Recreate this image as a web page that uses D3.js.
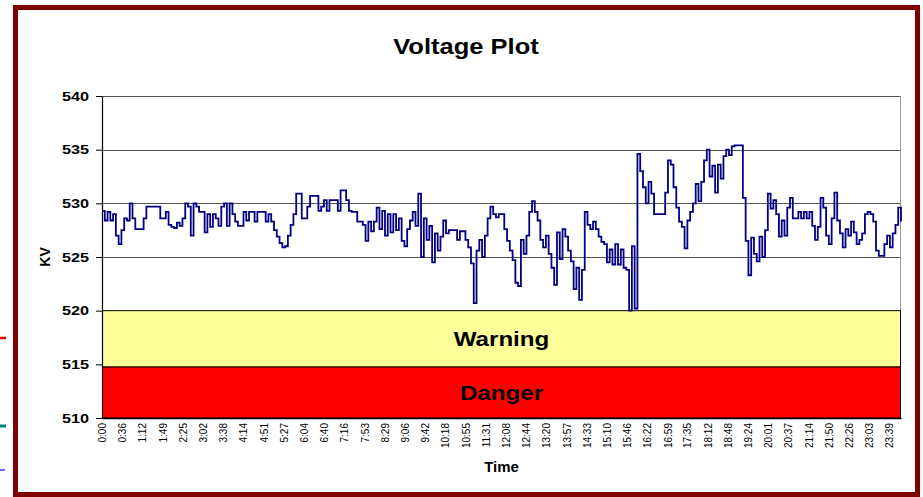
<!DOCTYPE html>
<html>
<head>
<meta charset="utf-8">
<script src="https://cdn.jsdelivr.net/npm/d3@7"></script>
<style>
  body { margin: 0; background: #fff; }
  svg { display: block; font-family: Arial, "Liberation Sans", sans-serif; }
</style>
</head>
<body>
<svg id="chart" width="923" height="497"></svg>
<script>
'use strict';

var chartTitle = 'Voltage Plot';
var xTitle = 'Time';
var yTitle = 'KV';

// one reading every 5 minutes, 0:00 .. 24:00
var stepMinutes = 5;
var voltage = [
  529.3, 528.4, 529.2, 528.4, 529.0, 527.0, 526.2, 527.5, 528.6, 528.4,
  530.0, 528.6, 527.6, 527.6, 527.6, 528.6, 529.7, 529.7, 529.7, 529.7,
  529.7, 528.6, 528.6, 529.2, 528.0, 527.8, 527.7, 528.2, 527.9, 528.6,
  530.0, 529.7, 527.0, 530.0, 529.7, 529.2, 529.2, 527.3, 529.0, 527.8,
  529.0, 528.6, 527.9, 529.7, 530.0, 527.9, 530.0, 529.0, 528.3, 527.9,
  527.9, 529.2, 528.4, 529.2, 529.2, 528.3, 529.2, 529.2, 529.2, 528.3,
  529.0, 528.3, 527.5, 526.9, 526.3, 525.9, 526.0, 527.0, 528.0, 529.0,
  530.9, 530.9, 528.6, 528.6, 529.7, 530.7, 530.7, 530.7, 529.3, 529.7,
  530.3, 529.3, 530.3, 530.3, 530.3, 529.3, 531.2, 531.2, 530.3, 529.3,
  529.2, 529.2, 528.3, 528.3, 528.0, 526.5, 528.3, 527.4, 528.3, 529.6,
  527.6, 529.3, 527.0, 529.0, 527.3, 529.0, 527.5, 528.6, 526.5, 526.0,
  527.6, 528.4, 529.2, 527.9, 530.9, 525.0, 528.6, 526.6, 527.9, 524.5,
  527.2, 525.6, 526.9, 528.4, 527.2, 527.5, 527.5, 527.5, 526.6, 527.4,
  527.4, 526.6, 525.9, 524.4, 520.7, 525.6, 526.6, 525.0, 527.0, 528.6,
  529.7, 529.0, 528.7, 529.0,
  529.0, 527.6, 526.5, 525.6, 524.7, 522.6, 522.3, 526.6, 525.3, 527.0,
  529.2, 530.2, 529.2, 528.4, 526.6, 525.9, 527.0, 525.3, 524.0, 522.4,
  527.3, 524.8, 527.6, 526.9, 525.6, 524.6, 522.0, 524.0, 521.0, 523.8,
  529.2, 528.0, 527.6, 528.3, 527.6, 526.9, 526.4, 526.2, 524.5, 525.7,
  524.3, 526.2, 524.3, 525.7, 524.0, 523.8, 520.0, 526.0, 520.2, 534.6,
  533.0, 531.5, 530.0, 532.0, 530.9, 529.0, 529.0, 529.0, 529.0, 531.0,
  534.0, 533.6, 531.5, 529.6, 528.3, 527.8, 525.8, 528.4, 529.2, 530.0,
  531.8, 530.2, 532.0, 534.0, 535.0, 532.5, 533.5, 531.0, 533.6, 532.3,
  534.4, 535.0, 534.5, 535.3, 535.4, 535.4, 535.4, 530.5, 526.5, 523.3,
  526.8, 525.3, 524.6, 526.9, 525.0, 527.5, 530.9, 529.5, 530.3, 529.0,
  526.9, 528.4, 527.0, 529.6, 530.5, 528.6, 528.6, 529.2, 528.6, 529.2,
  528.6, 529.2, 527.9, 526.6, 527.8, 530.5, 529.6, 527.0, 526.2, 528.6,
  531.0, 528.4, 527.2, 525.9, 527.6, 527.0, 528.3, 527.3, 526.2, 526.6,
  527.2, 529.0, 529.2, 529.0, 528.3, 525.6, 525.1, 525.1, 526.2, 527.0,
  525.9, 527.2, 528.0, 529.6, 528.3
];

var timeLabels = [
  '0:00', '0:36', '1:12', '1:49', '2:25', '3:02', '3:38', '4:14', '4:51', '5:27',
  '6:04', '6:40', '7:16', '7:53', '8:29', '9:06', '9:42', '10:18', '10:55', '11:31',
  '12:08', '12:44', '13:20', '13:57', '14:33', '15:10', '15:46', '16:22', '16:59', '17:35',
  '18:12', '18:48', '19:24', '20:01', '20:37', '21:14', '21:50', '22:26', '23:03', '23:39'
];

var yTicks = [510, 515, 520, 525, 530, 535, 540];
var gridValues = [525, 530, 535, 540];

// alarm zones
var zoneNames = ['Warning', 'Danger'];
var zoneTop = [520, 514.75];
var zoneBottom = [514.75, 510];

var svg = d3.select('#chart'),
    margin = {top: 96, right: 22, bottom: 79, left: 102},
    width = +svg.attr('width') - margin.left - margin.right,
    height = +svg.attr('height') - margin.top - margin.bottom;

function toMinutes(label) {
  var p = label.split(':');
  return +p[0] * 60 + +p[1];
}

var x = d3.scaleLinear()
    .domain([0, 1440])
    .range([0, width]);

var y = d3.scaleLinear()
    .domain([510, 540])
    .range([height, 0]);

// background
svg.append('rect')
    .attr('width', 923).attr('height', 497)
    .attr('fill', '#fff');

// frame
svg.append('rect')
    .attr('x', 15.5).attr('y', 7.5)
    .attr('width', 902).attr('height', 487)
    .attr('fill', 'none')
    .attr('stroke', '#800000')
    .attr('stroke-width', 5);

// stray bits of other slides on the left edge
[[338, '#e00000', 2.5, 6], [426, '#008080', 3, 6], [470, '#0000ff', 1.2, 5]].forEach(function (s) {
  svg.append('line')
      .attr('x1', 0).attr('x2', s[3])
      .attr('y1', s[0]).attr('y2', s[0])
      .attr('stroke', s[1]).attr('stroke-width', s[2]);
});

svg.append('text')
    .attr('transform', 'translate(466,54) scale(1.16,1)')
    .attr('text-anchor', 'middle')
    .style('font-size', '22px')
    .style('font-weight', 'bold')
    .text(chartTitle);

var g = svg.append('g')
    .attr('transform', 'translate(' + margin.left + ',' + margin.top + ')');

// grid lines
g.selectAll('.grid')
    .data(gridValues)
  .enter().append('line')
    .attr('class', 'grid')
    .attr('x1', 0).attr('x2', width)
    .attr('y1', function (d) { return Math.round(y(d)) + 0.5; })
    .attr('y2', function (d) { return Math.round(y(d)) + 0.5; })
    .attr('stroke', '#555')
    .attr('stroke-width', 1.2);

// right edge of plot area
g.append('line')
    .attr('x1', width - 0.5).attr('x2', width - 0.5)
    .attr('y1', y(540)).attr('y2', y(510))
    .attr('stroke', '#999');

// warning / danger zones
var zoneFill = ['#ffff99', '#ff0000'];
g.selectAll('.zone')
    .data(zoneNames)
  .enter().append('rect')
    .attr('class', 'zone')
    .attr('x', 0.5)
    .attr('y', function (d, i) { return y(zoneTop[i]); })
    .attr('width', width - 1)
    .attr('height', function (d, i) { return y(zoneBottom[i]) - y(zoneTop[i]); })
    .attr('fill', function (d, i) { return zoneFill[i]; })
    .attr('stroke', '#000')
    .attr('stroke-width', 1);

g.selectAll('.zone-label')
    .data(zoneNames)
  .enter().append('text')
    .attr('class', 'zone-label')
    .attr('transform', function (d, i) {
      var cy = (y(zoneTop[i]) + y(zoneBottom[i])) / 2 + 7.5;
      return 'translate(' + (width / 2) + ',' + cy + ') scale(1.15,1)';
    })
    .attr('text-anchor', 'middle')
    .style('font-size', '21px')
    .style('font-weight', 'bold')
    .text(function (d) { return d; });

// voltage trace
var line = d3.line()
    .curve(d3.curveStepAfter)
    .x(function (d, i) { return x(i * stepMinutes); })
    .y(function (d) { return y(d); });

g.append('path')
    .datum(voltage)
    .attr('fill', 'none')
    .attr('stroke', '#000080')
    .attr('stroke-width', 1.8)
    .attr('stroke-linejoin', 'miter')
    .attr('d', line);

// y axis
var yAxis = g.append('g')
    .attr('class', 'y axis')
    .call(d3.axisLeft(y).tickValues(yTicks).tickSize(6).tickSizeOuter(0));
yAxis.select('.domain').attr('stroke', '#000').attr('stroke-width', 1.2);
yAxis.selectAll('.tick line').attr('stroke', '#000');
yAxis.selectAll('.tick text')
    .attr('x', -10.4)
    .attr('transform', 'scale(1.25,1)')
    .style('font-size', '13px')
    .style('font-weight', 'bold')
    .style('font-family', 'Arial, "Liberation Sans", sans-serif')
    .attr('fill', '#000');

// x axis
var xAxis = g.append('g')
    .attr('class', 'x axis')
    .attr('transform', 'translate(0,' + height + ')')
    .call(d3.axisBottom(x)
      .tickValues(timeLabels.map(toMinutes))
      .tickFormat(function (d, i) { return timeLabels[i]; })
      .tickSize(0)
      .tickSizeOuter(0));
xAxis.select('.domain').attr('stroke', '#000').attr('stroke-width', 1.5);
xAxis.selectAll('.tick text')
    .attr('transform', 'rotate(-90)')
    .attr('text-anchor', 'end')
    .attr('x', -5)
    .attr('y', 0)
    .attr('dy', '0.36em')
    .style('font-size', '10px')
    .style('font-family', 'Arial, "Liberation Sans", sans-serif')
    .attr('fill', '#000');

// axis titles
svg.append('text')
    .attr('x', margin.left + width / 2)
    .attr('y', 472)
    .attr('text-anchor', 'middle')
    .style('font-size', '15px')
    .style('font-weight', 'bold')
    .text(xTitle);

svg.append('text')
    .attr('transform', 'translate(50,' + (margin.top + y(525)) + ') rotate(-90)')
    .attr('text-anchor', 'middle')
    .style('font-size', '14px')
    .style('font-weight', 'bold')
    .text(yTitle);
</script>
</body>
</html>
